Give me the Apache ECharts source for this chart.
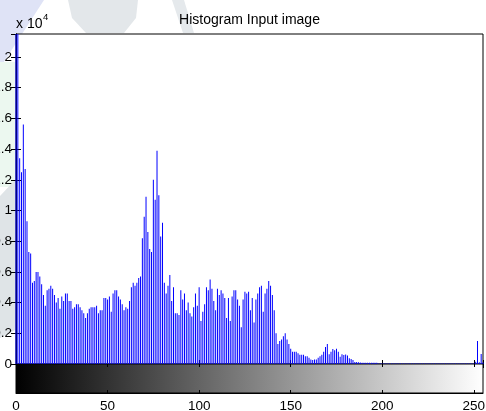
<!DOCTYPE html>
<html>
<head>
<meta charset="utf-8">
<script src="https://cdn.jsdelivr.net/npm/echarts@6/dist/echarts.min.js"></script>
<style>
  html, body { margin: 0; padding: 0; background: #fff; }
  #chart { width: 486px; height: 411px; }
</style>
</head>
<body>
<div id="chart"></div>
<script>
// imhist counts per grey level 0..255, in units of 10^4
const counts = [
  2.5, 2.3, 1.34, 1.25, 1.56, 1.27, 0.93, 0.73, 0.72, 0.53,
  0.54, 0.60, 0.60, 0.57, 0.52, 0.45, 0.38, 0.48, 0.49, 0.51,
  0.49, 0.45, 0.40, 0.43, 0.36, 0.44, 0.41, 0.46, 0.46, 0.41,
  0.41, 0.36, 0.37, 0.39, 0.39, 0.37, 0.35, 0.33, 0.30, 0.33,
  0.36, 0.37, 0.37, 0.37, 0.38, 0.33, 0.35, 0.35, 0.43, 0.43,
  0.42, 0.44, 0.34, 0.46, 0.48, 0.48, 0.44, 0.42, 0.39, 0.35,
  0.37, 0.36, 0.41, 0.50, 0.53, 0.51, 0.53, 0.56, 0.57, 0.82,
  0.96, 1.09, 0.86, 0.75, 0.73, 1.20, 1.07, 1.39, 1.10, 0.83,
  0.92, 0.53, 0.46, 0.51, 0.58, 0.41, 0.50, 0.33, 0.33, 0.32,
  0.48, 0.42, 0.46, 0.35, 0.40, 0.33, 0.31, 0.37, 0.46, 0.38,
  0.50, 0.28, 0.34, 0.39, 0.50, 0.48, 0.55, 0.49, 0.41, 0.35,
  0.49, 0.45, 0.48, 0.46, 0.43, 0.30, 0.43, 0.28, 0.44, 0.48,
  0.48, 0.42, 0.38, 0.24, 0.42, 0.47, 0.46, 0.47, 0.35, 0.43,
  0.27, 0.42, 0.46, 0.50, 0.51, 0.34, 0.46, 0.49, 0.54, 0.51,
  0.45, 0.35, 0.20, 0.13, 0.15, 0.16, 0.18, 0.20, 0.16, 0.13,
  0.10, 0.08, 0.08, 0.08, 0.07, 0.06, 0.06, 0.06, 0.05, 0.05,
  0.04, 0.03, 0.026, 0.03, 0.03, 0.04, 0.05, 0.06, 0.08, 0.11,
  0.13, 0.063, 0.08, 0.098, 0.09, 0.10, 0.08, 0.048, 0.064, 0.058,
  0.062, 0.055, 0.037, 0.033, 0.026, 0.013, 0.013, 0.012, 0.010, 0.008,
  0.008, 0.008, 0.008, 0.008, 0.008, 0.008, 0.008, 0.008, 0.003, 0.003,
  0.003, 0.003, 0.003, 0.003, 0.003, 0.003, 0.003, 0.003, 0.003, 0.003,
  0.003, 0.003, 0.003, 0.003, 0.003, 0.003, 0.003, 0.003, 0.003, 0.003,
  0.003, 0.003, 0.003, 0.003, 0.003, 0.003, 0.003, 0.003, 0.003, 0.003,
  0.003, 0.003, 0.003, 0.003, 0.003, 0.003, 0.003, 0.003, 0.003, 0.003,
  0.003, 0.003, 0.003, 0.003, 0.003, 0.003, 0.003, 0.003, 0.003, 0.003,
  0.003, 0.015, 0.15, 0.012, 0.065, 0.010
];
const xMin = 0, xMax = 255, xStep = 50;      // tick labels 0 50 100 ... 250
const yMin = 0, yMax = 2.15, yStep = 0.2;    // tick labels 0 0.2 ... 2
const titleText = 'Histogram Input image';
const exponentText = 'x 10';
const exponentSup = '4';

const bins = counts.map((v, i) => [i, v]);

const font = '"Liberation Sans", Arial, Helvetica, sans-serif';
const ink = '#000';

const chart = echarts.init(document.getElementById('chart'));

const hiddenLabel = { show: false };
const inTick = len => ({ inside: true, length: len, lineStyle: { color: ink } });

chart.setOption({
  animation: false,
  textStyle: { fontFamily: font },
  grid: [
    { left: 16, right: 3, top: 34, bottom: 47, outerBoundsMode: 'none', containLabel: false,
      show: true, backgroundColor: '#fff', borderColor: ink, borderWidth: 1 },
    { left: 16, right: 3, top: 364, bottom: 18, outerBoundsMode: 'none', containLabel: false }
  ],
  xAxis: [
    { gridIndex: 0, type: 'value', min: xMin, max: xMax, interval: xStep, position: 'bottom',
      axisLine: { lineStyle: { color: ink } }, axisTick: inTick(4), axisLabel: hiddenLabel, splitLine: { show: false } },
    { gridIndex: 0, type: 'value', min: xMin, max: xMax, interval: xStep, position: 'top',
      axisLine: { lineStyle: { color: ink } }, axisTick: inTick(4), axisLabel: hiddenLabel, splitLine: { show: false } },
    { gridIndex: 1, type: 'value', min: xMin, max: xMax, interval: xStep, position: 'bottom', z: 5,
      axisLine: { lineStyle: { color: ink } }, axisTick: inTick(3), splitLine: { show: false },
      axisLabel: { fontSize: 13.5, color: ink, margin: 6, showMaxLabel: false } },
    { gridIndex: 1, type: 'value', min: xMin, max: xMax, interval: xStep, position: 'top', z: 5,
      axisLine: { show: false }, axisTick: inTick(3), axisLabel: hiddenLabel, splitLine: { show: false } }
  ],
  yAxis: [
    { gridIndex: 0, type: 'value', min: yMin, max: yMax, interval: yStep, position: 'left',
      axisLine: { show: true, lineStyle: { color: ink } }, axisTick: { show: true, inside: true, length: 5, lineStyle: { color: ink } },
      splitLine: { show: false },
      axisLabel: { fontSize: 13.5, color: ink, margin: 4, showMaxLabel: false } },
    { gridIndex: 0, type: 'value', min: yMin, max: yMax, interval: yStep, position: 'right',
      axisLine: { show: true, lineStyle: { color: ink } }, axisTick: { show: true, inside: true, length: 5, lineStyle: { color: ink } },
      splitLine: { show: false }, axisLabel: hiddenLabel },
    { gridIndex: 1, type: 'value', min: 0, max: 1, show: false }
  ],
  graphic: [
    // faint watermark outside the axes
    { type: 'polygon', z: -10, shape: { points: [[0, 0], [44, 0], [0, 68]] }, style: { fill: '#dfe3f6' } },
    { type: 'rect', z: -10, shape: { x: 0, y: 62, width: 15, height: 125 }, style: { fill: '#ecf8f0' } },
    { type: 'polygon', z: -10, shape: { points: [[0, 196], [15, 180], [15, 330], [0, 338]] }, style: { fill: '#dfe4e7' } },
    { type: 'polygon', z: -10, shape: { points: [[68, 0], [138, 0], [136, 18], [124, 33], [86, 33], [72, 18]] }, style: { fill: '#e3e7ea' } },
    { type: 'polygon', z: -10, shape: { points: [[172, 0], [184, 0], [194, 33], [183, 33]] }, style: { fill: '#e5e9ec' } },
    { type: 'text', x: 249.5, y: 20, style: { text: titleText, fontSize: 14, fontFamily: font, fill: ink, textAlign: 'center', textVerticalAlign: 'middle' } },
    { type: 'text', x: 16, y: 24, style: { text: exponentText, fontSize: 14, fontFamily: font, fill: ink, textAlign: 'left', textVerticalAlign: 'middle' } },
    { type: 'text', x: 43, y: 17, style: { text: exponentSup, fontSize: 9.5, fontFamily: font, fill: ink, textAlign: 'left', textVerticalAlign: 'middle' } }
  ],
  series: [
    {
      type: 'bar', xAxisIndex: 0, yAxisIndex: 0, data: bins,
      barWidth: 1, itemStyle: { color: '#0000ff' }, clip: true, silent: true
    },
    {
      // grey-level colour bar under the histogram
      type: 'custom', xAxisIndex: 2, yAxisIndex: 2, data: [[xMin, 0]], silent: true,
      renderItem(params, api) {
        const a = api.coord([xMin, 1]);
        const b = api.coord([xMax, 0]);
        return {
          type: 'rect',
          shape: { x: a[0], y: a[1], width: b[0] - a[0], height: b[1] - a[1] },
          style: {
            fill: new echarts.graphic.LinearGradient(0, 0, 1, 0, [
              { offset: 0, color: '#000' }, { offset: 1, color: '#fff' }
            ]),
            stroke: ink, lineWidth: 1
          }
        };
      }
    }
  ]
});
</script>
</body>
</html>
